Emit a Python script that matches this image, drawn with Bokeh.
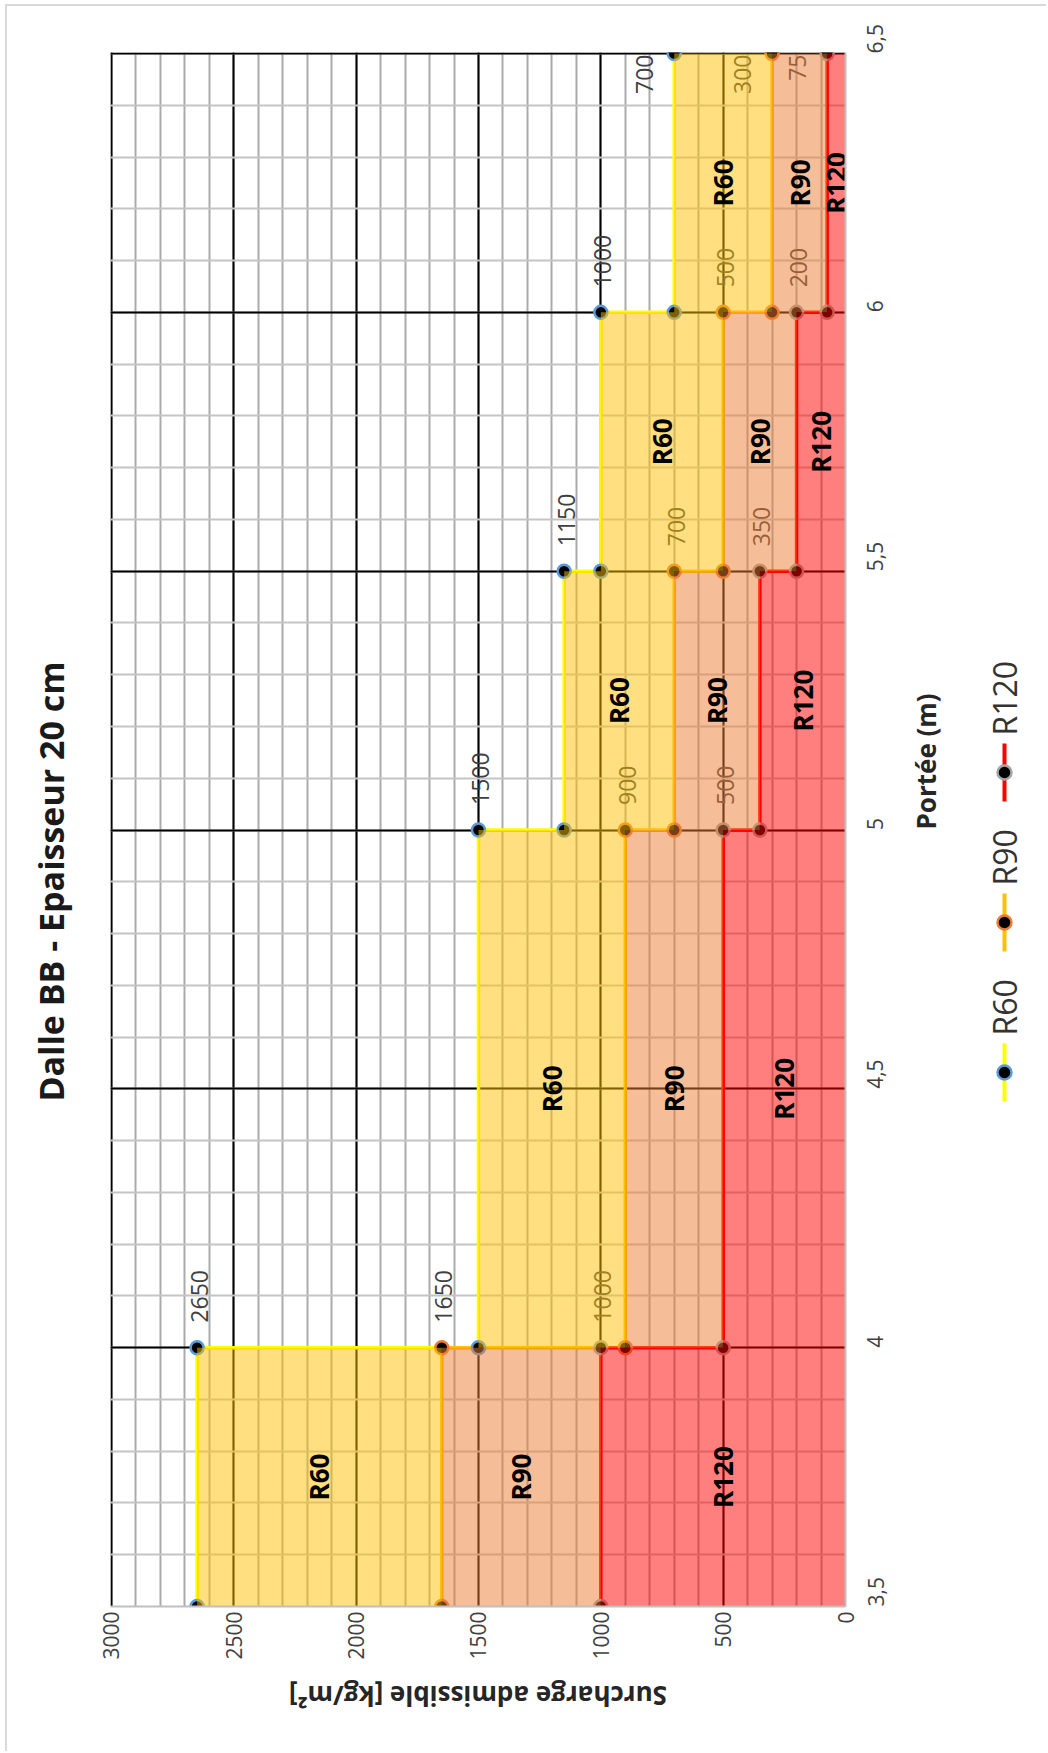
import math
from bokeh.plotting import figure
from bokeh.models import Range1d, SingleIntervalTicker, CustomJSTickFormatter
from bokeh.layouts import row, column
from bokeh.core.properties import value
from bokeh.embed import file_html
from bokeh.resources import INLINE

# ---------------- data ----------------
portee_breaks = [3.5, 4.0, 5.0, 5.5, 6.0, 6.5]          # Portée (m) step limits
series_names = ["R60", "R90", "R120"]
r60_values = [2650, 1500, 1150, 1000, 700]               # kg/m² per span interval
r90_values = [1650, 900, 700, 500, 300]
r120_values = [1000, 500, 350, 200, 75]
surcharge_tick_interval = 500
portee_tick_interval = 0.5
surcharge_max = 3000

title_text = "Dalle BB - Epaisseur 20 cm"
portee_title = "Portée (m)"
surcharge_title = "Surcharge admissible [kg/m²]"

# ---------------- style ----------------
line_colors = ["#FFFF00", "#FFC000", "#FF0000"]
marker_outline = ["#5B9BD5", "#ED7D31", "#A5A5A5"]
band_colors = ["#FFC000", "#ED7D31", "#FF0000"]
FONT = "Open Sans"

# page geometry (content starts at OX, OY)
OX, OY = 7, 6
FRAME_LEFT, FRAME_RIGHT = 110, 845
FRAME_TOP, FRAME_BOTTOM = 52, 1606
H = 1662            # height of the chart row
BH = 83             # height of the strip holding the value-axis title
TW, MW, LW = 75, 893, 71
TOTAL_W = TW + MW + LW

all_values = [r60_values, r90_values, r120_values]


def step_points(vals):
    xs, ys = [], []
    for i, v in enumerate(vals):
        ys += [portee_breaks[i], portee_breaks[i + 1]]
        xs += [v, v]
    return xs, ys


# ---------------- main chart ----------------
x_lo = surcharge_max + 4
p = figure(width=MW, height=H, x_range=Range1d(x_lo, 0), y_range=Range1d(3.5, 6.502),
           y_axis_location="right", output_backend="svg", toolbar_location=None,
           min_border_left=FRAME_LEFT - OX - TW, min_border_top=FRAME_TOP - OY,
           min_border_bottom=H - (FRAME_BOTTOM - OY),
           min_border_right=MW - (FRAME_LEFT - OX - TW) - (FRAME_RIGHT - FRAME_LEFT))
p.outline_line_color = None
p.background_fill_color = "white"
p.border_fill_color = "white"

xa = p.xaxis[0]
ya = p.yaxis[0]
xa.ticker = SingleIntervalTicker(interval=surcharge_tick_interval, num_minor_ticks=5)
ya.ticker = SingleIntervalTicker(interval=portee_tick_interval, num_minor_ticks=5)
ya.formatter = CustomJSTickFormatter(code="return String(tick).replace('.', ',');")
for ax in (xa, ya):
    ax.axis_line_color = "#BFBFBF"
    ax.axis_line_width = 2
    ax.major_tick_line_color = None
    ax.minor_tick_line_color = None
    ax.major_tick_out = 0
    ax.minor_tick_out = 0
    ax.major_label_orientation = math.pi / 2
    ax.major_label_text_font = FONT
    ax.major_label_text_font_size = "21px"
    ax.major_label_text_color = "#404040"
    ax.axis_label_text_font = FONT
    ax.axis_label_text_font_style = "bold"
    ax.axis_label_text_font_size = "26px"
    ax.axis_label_text_color = "#262626"
ya.axis_label = portee_title
xa.major_label_standoff = 5
ya.major_label_standoff = 30
ya.axis_label_standoff = 31
try:
    ya.axis_label_orientation = math.pi / 2
except AttributeError:
    pass

p.xgrid.grid_line_color = "black"
p.xgrid.grid_line_width = 2
p.xgrid.minor_grid_line_color = "#ABABAB"
p.xgrid.minor_grid_line_width = 2
p.ygrid.grid_line_color = "black"
p.ygrid.grid_line_width = 2
p.ygrid.minor_grid_line_color = "#C4C4C4"
p.ygrid.minor_grid_line_width = 2

# lines + markers
for vals, lc in zip(all_values, line_colors):
    xs, ys = step_points(vals)
    p.line(x=xs, y=ys, line_color=lc, line_width=3.5)
for vals, oc in zip(all_values, marker_outline):
    xs, ys = step_points(vals)
    p.scatter(x=xs, y=ys, size=13, fill_color="black", line_color=oc, line_width=2.5)

# data labels (drawn under the bands)
for vals in all_values:
    lx = vals[:-1]
    ly = portee_breaks[1:-1]
    p.text(x=lx, y=ly, text=[str(v) for v in lx], angle=math.pi / 2,
           text_align="left", text_baseline="middle", x_offset=2, y_offset=-25,
           text_font=value(FONT), text_font_size="23px", text_color="#404040")
# labels of the last interval, beside the point
last_x = [v[-1] for v in all_values]
p.text(x=last_x, y=[portee_breaks[-1]] * len(last_x), text=[str(v) for v in last_x],
       angle=math.pi / 2, text_align="right", text_baseline="middle", x_offset=-30, y_offset=1,
       text_font=value(FONT), text_font_size="23px", text_color="#404040")

# bands
band_lower = [r90_values, r120_values, [0] * len(r120_values)]
for upper, lower, col in zip(all_values, band_lower, band_colors):
    x2, ys = step_points(upper)
    x1, _ = step_points(lower)
    p.harea(x1=x1, x2=x2, y=ys, fill_color=col, fill_alpha=0.5)

# band names
for name, upper, lower in zip(series_names, all_values, band_lower):
    mx = [(u + l) / 2 for u, l in zip(upper, lower)]
    my = [(portee_breaks[i] + portee_breaks[i + 1]) / 2 for i in range(len(upper))]
    p.text(x=mx, y=my, text=[name] * len(mx), angle=math.pi / 2,
           text_align="center", text_baseline="middle",
           text_font=value(FONT), text_font_style="bold", text_font_size="26px", text_color="black")

# ---------------- title panel (y = -page_y; frames are aligned in the row) ----------------
tf = figure(width=TW, height=H, x_range=Range1d(OX, OX + TW),
            y_range=Range1d(-FRAME_BOTTOM, -FRAME_TOP),
            x_axis_type=None, y_axis_type=None, output_backend="svg", toolbar_location=None,
            min_border=0)
tf.outline_line_color = None
tf.grid.visible = False
tf.text(x=[50], y=[-881], text=[title_text], angle=math.pi / 2, text_align="center",
        text_baseline="middle", text_font=value(FONT), text_font_style="bold",
        text_font_size="34px", text_color="#1A1A1A")

# ---------------- legend panel ----------------
LX0 = OX + TW + MW
lf = figure(width=LW, height=H, x_range=Range1d(LX0, LX0 + LW),
            y_range=Range1d(-FRAME_BOTTOM, -FRAME_TOP),
            x_axis_type=None, y_axis_type=None, output_backend="svg", toolbar_location=None,
            min_border=0)
lf.outline_line_color = None
lf.grid.visible = False
leg_x = 1004
leg_y0 = -1072
leg_step = 150
for i, (name, lc, oc) in enumerate(zip(series_names, line_colors, marker_outline)):
    cy = leg_y0 + i * leg_step
    lf.segment(x0=[leg_x], y0=[cy - 29], x1=[leg_x], y1=[cy + 29], line_color=lc, line_width=4)
    lf.scatter(x=[leg_x], y=[cy], size=14, fill_color="black", line_color=oc, line_width=2.5)
    lf.text(x=[leg_x], y=[cy + 37], text=[name], angle=math.pi / 2, text_align="left",
            text_baseline="middle", text_font=value(FONT), text_font_size="32px",
            text_color="#333333")

# ---------------- strip with the value-axis title (upside down) ----------------
BY0 = OY + H
bf = figure(width=TOTAL_W, height=BH, x_range=Range1d(OX, OX + TOTAL_W),
            y_range=Range1d(-(BY0 + BH), -BY0),
            x_axis_type=None, y_axis_type=None, output_backend="svg", toolbar_location=None,
            min_border=0)
bf.outline_line_color = None
bf.grid.visible = False
bf.text(x=[(FRAME_LEFT + FRAME_RIGHT) / 2], y=[-1695], text=[surcharge_title], angle=math.pi,
        text_align="center", text_baseline="middle", text_font=value(FONT),
        text_font_style="bold", text_font_size="26px", text_color="#262626")

layout = column(row(tf, p, lf), bf,
                styles={"margin-left": "5px", "margin-top": "4px",
                        "border-left": "2px solid #D9D9D9",
                        "border-top": "2px solid #D9D9D9"})

open("out.html", "w").write(file_html(layout, INLINE))
